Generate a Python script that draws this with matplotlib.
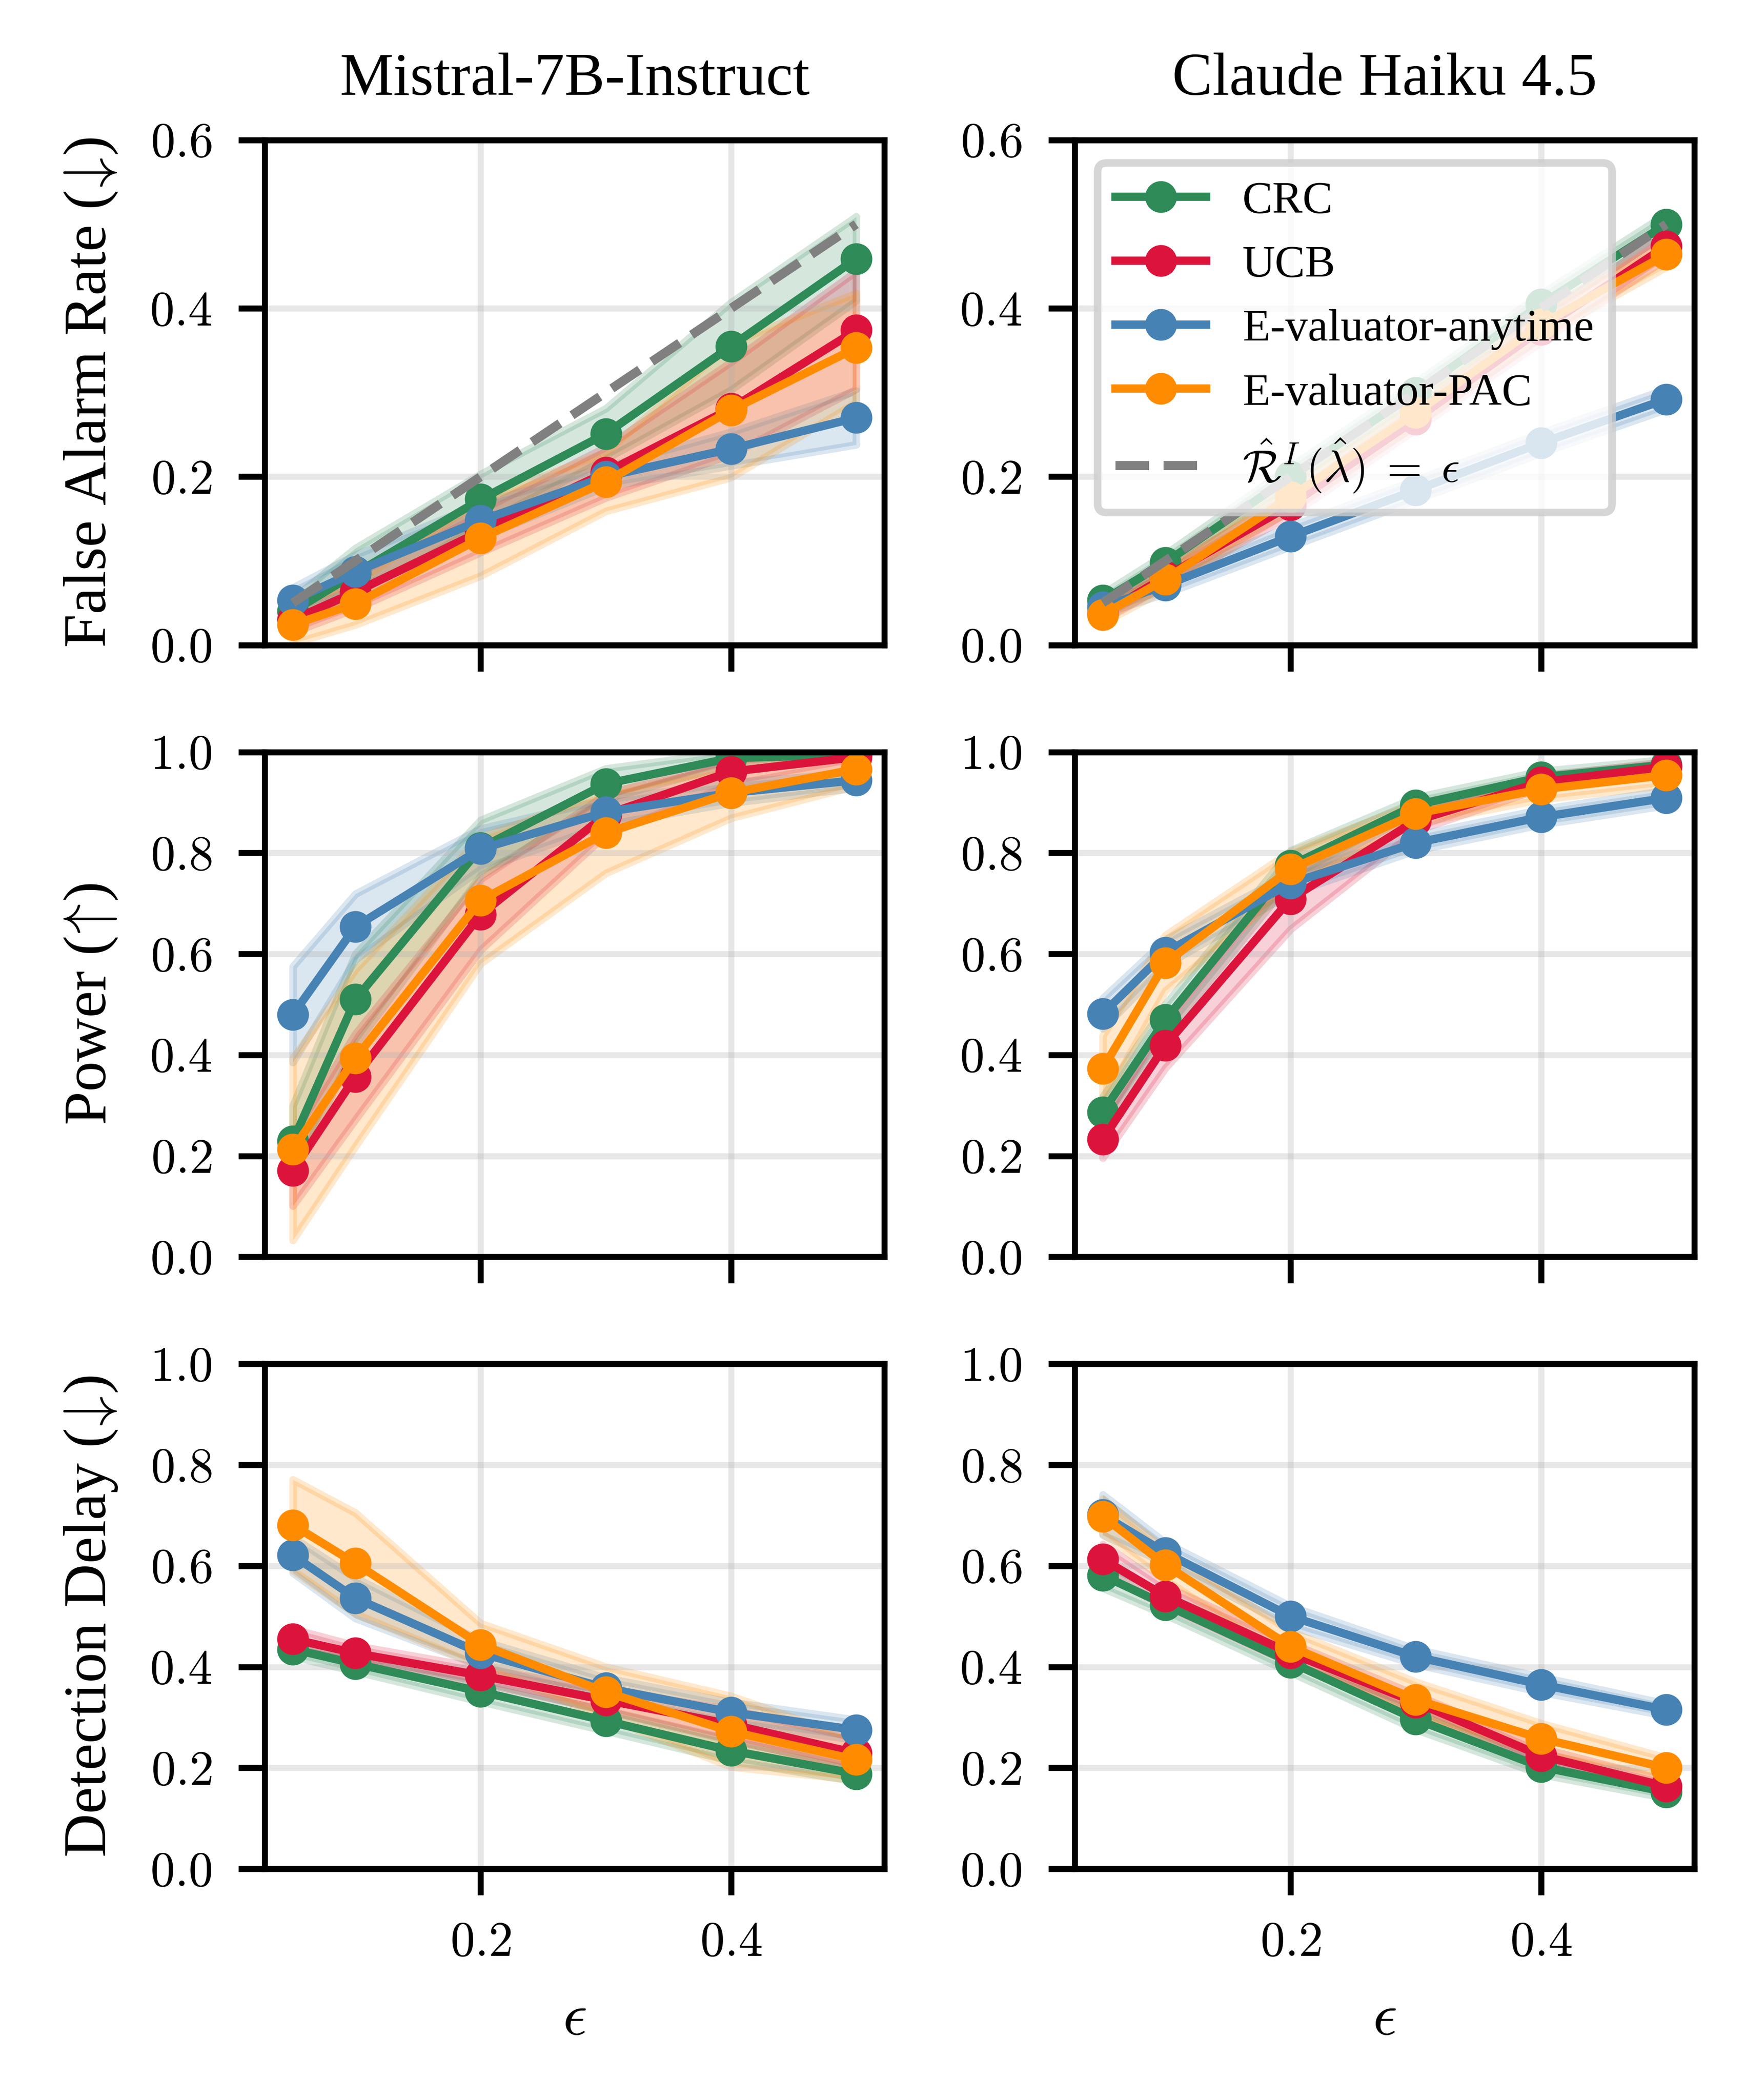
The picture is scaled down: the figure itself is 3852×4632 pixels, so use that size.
import matplotlib
matplotlib.use("Agg")
import matplotlib.pyplot as plt
from matplotlib.ticker import FuncFormatter

# ---- dados ----
eps = [0.05, 0.1, 0.2, 0.3, 0.4, 0.5]
metodos = ["CRC", "UCB", "E-valuator-anytime", "E-valuator-PAC"]
modelos = ["Mistral-7B-Instruct", "Claude Haiku 4.5"]
metricas = [r"False Alarm Rate ($\!\downarrow\!$)", r"Power ($\!\uparrow\!$)",
            r"Detection Delay ($\!\downarrow\!$)"]

# False alarm rate
mistral_far = {
    "CRC": [0.040, 0.085, 0.173, 0.251, 0.355, 0.459],
    "UCB": [0.030, 0.063, 0.135, 0.205, 0.281, 0.374],
    "E-valuator-anytime": [0.053, 0.087, 0.148, 0.200, 0.233, 0.270],
    "E-valuator-PAC": [0.024, 0.049, 0.127, 0.194, 0.279, 0.353],
}
mistral_far_err = {
    "CRC": [0.015, 0.030, 0.030, 0.030, 0.052, 0.050],
    "UCB": [0.015, 0.020, 0.025, 0.030, 0.055, 0.070],
    "E-valuator-anytime": [0.015, 0.020, 0.020, 0.012, 0.020, 0.032],
    "E-valuator-PAC": [0.022, 0.025, 0.045, 0.035, 0.080, 0.065],
}
haiku_far = {
    "CRC": [0.053, 0.098, 0.200, 0.300, 0.405, 0.500],
    "UCB": [0.037, 0.081, 0.166, 0.268, 0.375, 0.474],
    "E-valuator-anytime": [0.045, 0.071, 0.129, 0.184, 0.240, 0.292],
    "E-valuator-PAC": [0.036, 0.078, 0.176, 0.276, 0.381, 0.464],
}
haiku_far_err = {
    "CRC": [0.008, 0.010, 0.012, 0.012, 0.012, 0.012],
    "UCB": [0.008, 0.010, 0.012, 0.012, 0.015, 0.015],
    "E-valuator-anytime": [0.008, 0.010, 0.012, 0.012, 0.012, 0.012],
    "E-valuator-PAC": [0.010, 0.012, 0.015, 0.015, 0.015, 0.015],
}

# Power
mistral_power = {
    "CRC": [0.229, 0.510, 0.810, 0.937, 0.988, 0.995],
    "UCB": [0.171, 0.357, 0.678, 0.876, 0.961, 0.990],
    "E-valuator-anytime": [0.480, 0.654, 0.808, 0.881, 0.919, 0.944],
    "E-valuator-PAC": [0.213, 0.394, 0.706, 0.840, 0.919, 0.966],
}
mistral_power_err = {
    "CRC": [0.070, 0.090, 0.055, 0.030, 0.012, 0.005],
    "UCB": [0.070, 0.085, 0.070, 0.040, 0.025, 0.010],
    "E-valuator-anytime": [0.095, 0.065, 0.040, 0.025, 0.020, 0.015],
    "E-valuator-PAC": [0.180, 0.175, 0.125, 0.080, 0.050, 0.033],
}
haiku_power = {
    "CRC": [0.287, 0.470, 0.775, 0.895, 0.950, 0.975],
    "UCB": [0.233, 0.419, 0.709, 0.864, 0.940, 0.971],
    "E-valuator-anytime": [0.482, 0.603, 0.740, 0.820, 0.871, 0.909],
    "E-valuator-PAC": [0.373, 0.582, 0.768, 0.878, 0.926, 0.954],
}
haiku_power_err = {
    "CRC": [0.030, 0.030, 0.030, 0.015, 0.012, 0.010],
    "UCB": [0.037, 0.045, 0.060, 0.020, 0.012, 0.010],
    "E-valuator-anytime": [0.030, 0.025, 0.020, 0.015, 0.015, 0.015],
    "E-valuator-PAC": [0.065, 0.055, 0.035, 0.020, 0.020, 0.020],
}

# Detection delay
mistral_delay = {
    "CRC": [0.435, 0.406, 0.351, 0.293, 0.234, 0.188],
    "UCB": [0.455, 0.427, 0.383, 0.334, 0.286, 0.229],
    "E-valuator-anytime": [0.621, 0.536, 0.427, 0.358, 0.310, 0.275],
    "E-valuator-PAC": [0.681, 0.605, 0.444, 0.350, 0.272, 0.216],
}
mistral_delay_err = {
    "CRC": [0.015, 0.015, 0.020, 0.020, 0.020, 0.015],
    "UCB": [0.020, 0.015, 0.015, 0.020, 0.030, 0.030],
    "E-valuator-anytime": [0.035, 0.040, 0.025, 0.020, 0.020, 0.020],
    "E-valuator-PAC": [0.090, 0.100, 0.042, 0.050, 0.070, 0.040],
}
haiku_delay = {
    "CRC": [0.581, 0.523, 0.409, 0.296, 0.202, 0.152],
    "UCB": [0.613, 0.540, 0.427, 0.330, 0.224, 0.163],
    "E-valuator-anytime": [0.701, 0.626, 0.500, 0.420, 0.365, 0.315],
    "E-valuator-PAC": [0.698, 0.602, 0.440, 0.335, 0.258, 0.200],
}
haiku_delay_err = {
    "CRC": [0.025, 0.020, 0.020, 0.020, 0.015, 0.012],
    "UCB": [0.030, 0.020, 0.020, 0.015, 0.015, 0.012],
    "E-valuator-anytime": [0.040, 0.020, 0.020, 0.015, 0.015, 0.012],
    "E-valuator-PAC": [0.035, 0.030, 0.030, 0.035, 0.030, 0.020],
}

cores = {
    "CRC": "#2E8B57",
    "UCB": "#DC143C",
    "E-valuator-anytime": "#4682B4",
    "E-valuator-PAC": "#FF8C00",
}

painel = [
    [(mistral_far, mistral_far_err), (haiku_far, haiku_far_err)],
    [(mistral_power, mistral_power_err), (haiku_power, haiku_power_err)],
    [(mistral_delay, mistral_delay_err), (haiku_delay, haiku_delay_err)],
]
ylims = [0.6, 1.0, 1.0]

# ---- estilo ----
plt.rcParams["font.family"] = "serif"
plt.rcParams["font.serif"] = ["Liberation Serif", "DejaVu Serif"]
plt.rcParams["mathtext.fontset"] = "cm"
plt.rcParams["axes.linewidth"] = 0.8

fig, axes = plt.subplots(3, 2, figsize=(3852 / 1200, 4632 / 1200), sharex=True)
fig.subplots_adjust(left=0.1516, right=0.9704, bottom=0.1101, top=0.9333,
                    wspace=0.307, hspace=0.212)

fmt = FuncFormatter(lambda v, pos: f"${v:.1f}$")

for i in range(3):
    for j in range(2):
        ax = axes[i, j]
        medias, erros = painel[i][j]
        for m in metodos:
            lo = [a - b for a, b in zip(medias[m], erros[m])]
            hi = [a + b for a, b in zip(medias[m], erros[m])]
            ax.fill_between(eps, lo, hi, color=cores[m], alpha=0.2)
            ax.plot(eps, medias[m], marker="o", ms=3.2, lw=1.1,
                    color=cores[m], label=m)
        if i == 0:
            # linha de referência R = eps
            ax.plot([eps[0], eps[-1]], [eps[0], eps[-1]], ls="--",
                    color="gray", lw=1.2,
                    label=r"$\hat{\mathcal{R}}^I\,(\hat{\lambda})\;=\;\epsilon$")
            ax.set_yticks([0.0, 0.2, 0.4, 0.6])
            ax.set_title(modelos[j], fontsize=8)
        else:
            ax.set_yticks([0.0, 0.2, 0.4, 0.6, 0.8, 1.0])
        ax.set_ylim(0, ylims[i])
        ax.set_xticks([0.2, 0.4])
        ax.xaxis.set_major_formatter(fmt)
        ax.yaxis.set_major_formatter(fmt)
        ax.tick_params(labelsize=6.5, length=3.5, width=0.8)
        ax.grid(True, alpha=0.3)
        if j == 0:
            ax.set_ylabel(metricas[i], fontsize=8)
        if i == 2:
            ax.set_xlabel(r"$\epsilon$", fontsize=8, labelpad=3.5)

axes[0, 1].legend(loc="upper left", fontsize=6)

fig.savefig("out.png", dpi=1200)
